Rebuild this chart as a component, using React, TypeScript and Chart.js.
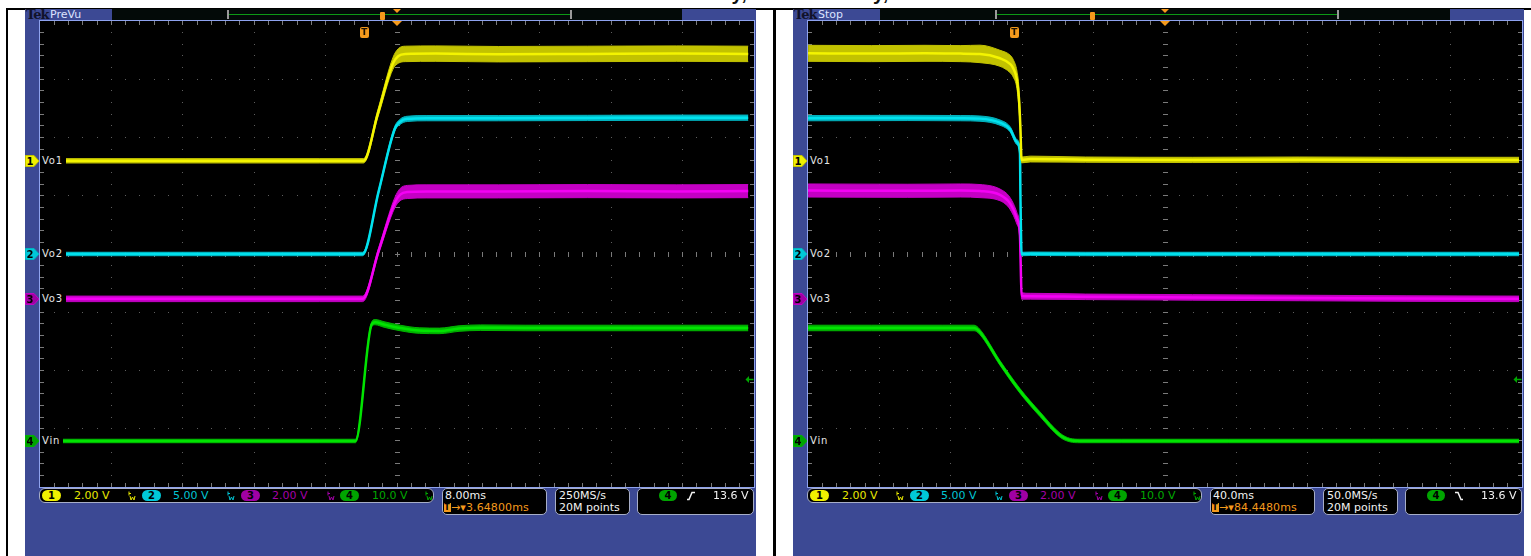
import React, { useEffect, useRef } from "react";
import { Chart, registerables } from "chart.js";

Chart.register(...registerables);

// ---------------- channel set-up (shared by both captures) ----------------
const CH_NAMES = ["Vo1", "Vo2", "Vo3", "Vin"];
const CH_VOLTS_PER_DIV = [2, 5, 2, 10];
const CH_OFFSET_DIV = [1.6, 0, -0.77, -3.21];
const CH_SCALE_LABELS = ["2.00 V", "5.00 V", "2.00 V", "10.0 V"];
const TRIGGER_LEVEL_TEXT = "13.6 V";
const PAGE_TITLE = "Turn-on delay, Turn-off delay, 300";

// ---------------- left capture: power-up, 8.00 ms/div ----------------
const L_TIME_PER_DIV = 8; // ms
const L_DELAY = 3.648; // ms, trigger -> centre
const L_VO1_T = [-36.35, -20, -5, -0.1, 1.5, 3.2, 3.8, 4.6, 8, 15, 25, 35, 43.0];
const L_VO1_V = [0, 0, 0, 0, 1.62, 3.35, 3.6, 3.67, 3.68, 3.66, 3.67, 3.68, 3.67];
const L_VO1_PP = [0.15, 0.15, 0.15, 0.15, 0.25, 0.4, 0.5, 0.53, 0.53, 0.53, 0.53, 0.53, 0.53];

const L_VO2_T = [-36.35, -20, -5, -0.2, 1.6, 3.4, 4.0, 4.8, 7, 15, 25, 35, 43.0];
const L_VO2_V = [0, 0, 0, 0, 5.4, 10.75, 11.35, 11.6, 11.66, 11.66, 11.68, 11.7, 11.7];
const L_VO2_PP = [0.3, 0.3, 0.3, 0.3, 0.3, 0.4, 0.45, 0.45, 0.45, 0.45, 0.45, 0.45, 0.45];

const L_VO3_T = [-36.35, -20, -5, -0.2, 1.6, 3.4, 4.0, 4.8, 7, 15, 25, 35, 43.0];
const L_VO3_V = [0, 0, 0, 0, 1.66, 3.3, 3.58, 3.67, 3.69, 3.69, 3.7, 3.69, 3.7];
const L_VO3_PP = [0.19, 0.19, 0.19, 0.19, 0.2, 0.35, 0.42, 0.45, 0.45, 0.45, 0.45, 0.45, 0.45];

const L_VIN_T = [-36.35, -20, -5, -1.0, 0.8, 1.2, 2.2, 4.0, 6.2, 8.4, 10.6, 13, 18, 30, 43.0];
const L_VIN_V = [0, 0, 0, 0, 20.0, 20.4, 20.0, 19.4, 18.95, 18.9, 19.3, 19.45, 19.4, 19.4, 19.4];
const L_VIN_PP = [0.6, 0.6, 0.6, 0.6, 0.8, 0.9, 0.95, 0.95, 0.95, 0.95, 0.95, 0.95, 0.95, 0.95, 0.95];

// ---------------- right capture: power-down, 40.0 ms/div ----------------
const R_TIME_PER_DIV = 40; // ms
const R_DELAY = 84.448; // ms
const R_VO1_T = [-115.5, -80, -50, -30, -19.2, -8.0, -2.4, -0.7, 1.5, 2.6, 3.4, 4.1, 9, 40, 100, 160, 220, 282.8];
const R_VO1_V = [3.69, 3.68, 3.69, 3.68, 3.67, 3.52, 3.33, 3.19, 2.78, 2.16, 1.2, 0.03, 0.06, 0.04, 0.03, 0.04, 0.03, 0.03];
const R_VO1_PP = [0.55, 0.55, 0.55, 0.55, 0.6, 0.55, 0.6, 0.6, 0.6, 0.7, 0.4, 0.2, 0.2, 0.18, 0.18, 0.18, 0.18, 0.18];

const R_VO2_T = [-115.5, -60, -30, -19.2, -8.0, -2.4, 1.5, 3.2, 3.5, 4.1, 9, 40, 100, 160, 220, 282.8];
const R_VO2_V = [11.66, 11.68, 11.66, 11.62, 11.28, 10.72, 9.6, 8.62, 4.5, 0.0, 0.02, 0.0, 0.0, 0.0, 0.0, 0.0];
const R_VO2_PP = [0.45, 0.45, 0.45, 0.45, 0.45, 0.45, 0.45, 0.45, 0.3, 0.3, 0.3, 0.3, 0.3, 0.3, 0.3, 0.3];

const R_VO3_T = [-115.5, -60, -30, -19.2, -8.0, -2.4, 1.5, 3.2, 3.6, 4.1, 9, 40, 100, 160, 220, 282.8];
const R_VO3_V = [3.72, 3.71, 3.72, 3.7, 3.57, 3.28, 2.76, 2.16, 1.2, 0.1, 0.09, 0.07, 0.05, 0.03, 0.01, 0.0];
const R_VO3_PP = [0.45, 0.45, 0.45, 0.45, 0.4, 0.4, 0.4, 0.35, 0.25, 0.22, 0.2, 0.19, 0.19, 0.19, 0.19, 0.19];

const R_VIN_T = [-115.5, -80, -40, -22.5, -19.5, -8.0, 3.2, 14.4, 25.6, 31.2, 36.8, 60, 120, 200, 282.8];
const R_VIN_V = [19.4, 19.4, 19.4, 19.4, 18.8, 13.4, 8.6, 4.6, 1.0, 0.15, 0, 0, 0, 0, 0];
const R_VIN_PP = [0.95, 0.95, 0.95, 0.95, 0.9, 0.8, 0.8, 0.8, 0.7, 0.6, 0.6, 0.6, 0.6, 0.6, 0.6];

// ---------------- styles ----------------
const CH_COLOR = ["#f4f400", "#00e2ee", "#f400f4", "#00e400"];
const CH_DIM = ["#c2c200", "#00b4c0", "#c400c4", "#00b400"];
const CH_TEXT = ["#e8e800", "#00c4d4", "#a400a8", "#00a800"];
const CH_BADGE = ["#f0f000", "#00c8d8", "#a000a4", "#00a400"];
const ORANGE = "#f59a1c";
const BLUE = "#3c4994";
const FONT = '"DejaVu Sans", Verdana, sans-serif';

type Trace = { t: number[]; v: number[]; pp: number[] };
type Capture = {
  ox: number;
  mode: string;
  tMin: number;
  tMax: number;
  traces: Trace[];
  timeText: string;
  delayText: string;
  rateText: string;
  rising: boolean;
  navLine: [number, number];
  navT: number;
};

const CAPTURES: Capture[] = [
  {
    ox: 0,
    mode: "PreVu",
    tMin: L_DELAY - 5 * L_TIME_PER_DIV,
    tMax: L_DELAY + 5 * L_TIME_PER_DIV,
    traces: [
      { t: L_VO1_T, v: L_VO1_V, pp: L_VO1_PP },
      { t: L_VO2_T, v: L_VO2_V, pp: L_VO2_PP },
      { t: L_VO3_T, v: L_VO3_V, pp: L_VO3_PP },
      { t: L_VIN_T, v: L_VIN_V, pp: L_VIN_PP },
    ],
    timeText: "8.00ms",
    delayText: "3.64800ms",
    rateText: "250MS/s",
    rising: true,
    navLine: [228, 570],
    navT: 380,
  },
  {
    ox: 768,
    mode: "Stop",
    tMin: R_DELAY - 5 * R_TIME_PER_DIV,
    tMax: R_DELAY + 5 * R_TIME_PER_DIV,
    traces: [
      { t: R_VO1_T, v: R_VO1_V, pp: R_VO1_PP },
      { t: R_VO2_T, v: R_VO2_V, pp: R_VO2_PP },
      { t: R_VO3_T, v: R_VO3_V, pp: R_VO3_PP },
      { t: R_VIN_T, v: R_VIN_V, pp: R_VIN_PP },
    ],
    timeText: "40.0ms",
    delayText: "84.4480ms",
    rateText: "50.0MS/s",
    rising: false,
    navLine: [228, 569],
    navT: 322,
  },
];

const PLOT_W = 714;
const PLOT_H = 466;
const PLOT_X = 40;
const PLOT_Y = 21;

function buildDatasets(traces: Trace[]) {
  const ds: any[] = [];
  traces.forEach((tr, c) => {
    const toDiv = (val: number) => CH_OFFSET_DIV[c] + val / CH_VOLTS_PER_DIV[c];
    const core = tr.t.map((t, i) => ({ x: t, y: toDiv(tr.v[i]) }));
    const upper = tr.t.map((t, i) => ({ x: t, y: toDiv(tr.v[i] + tr.pp[i] / 2) }));
    const lower = tr.t.map((t, i) => ({ x: t, y: toDiv(tr.v[i] - tr.pp[i] / 2) }));
    ds.push({ label: CH_NAMES[c], data: core, borderColor: CH_COLOR[c], borderWidth: 2.5, fill: false });
    ds.push({ label: CH_NAMES[c] + " max", data: upper, borderColor: CH_DIM[c], borderWidth: 1, fill: false });
    ds.push({
      label: CH_NAMES[c] + " min",
      data: lower,
      borderColor: CH_DIM[c],
      borderWidth: 1,
      fill: "-1",
      backgroundColor: CH_DIM[c],
    });
  });
  return ds;
}

const graticulePlugin = {
  id: "graticule",
  beforeDatasetsDraw(chart: any) {
    const { ctx, chartArea: a } = chart;
    const L = a.left, T = a.top, W = a.right - a.left, H = a.bottom - a.top;
    const dx = W / 10, dy = H / 8;
    ctx.save();
    ctx.fillStyle = "#000";
    ctx.fillRect(L, T, W, H);
    ctx.fillStyle = "#5e5e5e";
    for (let i = 1; i < 10; i++) {
      const x = Math.floor(L + i * dx);
      for (let k = 1; k < 40; k++) ctx.fillRect(x, Math.floor(T + (k * dy) / 5), 1, 1);
    }
    for (let j = 1; j < 8; j++) {
      const y = Math.floor(T + j * dy);
      for (let k = 1; k < 50; k++) ctx.fillRect(Math.floor(L + (k * dx) / 5), y, 1, 1);
    }
    ctx.fillStyle = "#7a7a7a";
    const cx = Math.floor(L + 5 * dx), cy = Math.floor(T + 4 * dy);
    for (let k = 1; k < 50; k++) {
      const x = Math.floor(L + (k * dx) / 5);
      ctx.fillRect(x, cy - 2, 1, 5);
      ctx.fillRect(x, T, 1, 4);
      ctx.fillRect(x, a.bottom - 4, 1, 4);
    }
    for (let k = 1; k < 40; k++) {
      const y = Math.floor(T + (k * dy) / 5);
      ctx.fillRect(cx - 2, y, 5, 1);
      ctx.fillRect(L, y, 4, 1);
      ctx.fillRect(a.right - 4, y, 4, 1);
    }
    ctx.restore();
  },
};

function ScopeChart({ cap }: { cap: Capture }) {
  const ref = useRef<HTMLCanvasElement>(null);
  useEffect(() => {
    const chart = new Chart(ref.current as HTMLCanvasElement, {
      type: "line",
      data: { datasets: buildDatasets(cap.traces) },
      options: {
        animation: false,
        responsive: false,
        devicePixelRatio: 1,
        events: [],
        layout: { padding: 0 },
        plugins: { legend: { display: false }, tooltip: { enabled: false }, title: { display: false } },
        elements: { point: { radius: 0 }, line: { cubicInterpolationMode: "monotone" } },
        scales: {
          x: { type: "linear", min: cap.tMin, max: cap.tMax, display: false },
          y: { type: "linear", min: -4, max: 4, display: false },
        },
      } as any,
      plugins: [graticulePlugin],
    });
    return () => chart.destroy();
  }, [cap]);
  return (
    <canvas
      ref={ref}
      width={PLOT_W}
      height={PLOT_H}
      style={{ position: "absolute", left: cap.ox + PLOT_X, top: PLOT_Y, width: PLOT_W, height: PLOT_H }}
    />
  );
}

const abs = (left: number, top: number, extra: React.CSSProperties = {}): React.CSSProperties => ({
  position: "absolute",
  left,
  top,
  ...extra,
});

function DownTri({ x, y, w, h }: { x: number; y: number; w: number; h: number }) {
  return (
    <div
      style={abs(x - w / 2, y, {
        width: 0,
        height: 0,
        borderLeft: `${w / 2}px solid transparent`,
        borderRight: `${w / 2}px solid transparent`,
        borderTop: `${h}px solid ${ORANGE}`,
      })}
    />
  );
}

function BwIcon({ x, color }: { x: number; color: string }) {
  return (
    <svg style={abs(x, 491)} width={8} height={10}>
      <path d="M1 0.5 V4.5 M1 2.5 H3" stroke={color} strokeWidth={1} fill="none" />
      <path d="M2 5 L3 9 L4.5 6 L6 9 L7 5" stroke={color} strokeWidth={1} fill="none" />
    </svg>
  );
}

function Scope({ cap }: { cap: Capture }) {
  const o = cap.ox;
  const trigX = PLOT_X + ((0 - cap.tMin) / (cap.tMax - cap.tMin)) * PLOT_W;
  const chanY = (c: number) => PLOT_Y + PLOT_H / 2 - (CH_OFFSET_DIV[c] * PLOT_H) / 8;
  const textBase: React.CSSProperties = { fontFamily: FONT, fontSize: 11, lineHeight: "13px", whiteSpace: "nowrap" };
  const badgeX = [42, 142, 241, 340];
  const scaleX = [74, 173, 272, 372];
  const bwX = [128, 227, 327, 425];
  const readoutBox = (left: number, width: number): React.CSSProperties =>
    abs(o + left, 488, {
      width,
      height: 27,
      background: "#000",
      border: "1px solid #a7aec8",
      borderRadius: 5,
      boxSizing: "border-box",
    });
  const badge = (left: number, c: number): React.CSSProperties =>
    abs(o + left, 490, {
      width: 19,
      height: 11,
      borderRadius: 6,
      background: CH_BADGE[c],
      color: "#000",
      fontFamily: FONT,
      fontWeight: "bold",
      fontSize: 10,
      lineHeight: "11px",
      textAlign: "center",
    });
  return (
    <>
      {/* instrument panel */}
      <div style={abs(o + 25, 9, { width: 731, height: 547, background: BLUE })} />
      <div
        style={abs(o + 26, 7, {
          fontFamily: '"DejaVu Serif", serif',
          fontWeight: "bold",
          fontSize: 13,
          color: "#10122a",
          letterSpacing: -1,
          lineHeight: "15px",
        })}
      >
        Tek
      </div>
      <div style={abs(o + 50, 7.5, { ...textBase, color: "#dce3ff" })}>{cap.mode}</div>
      {/* record view bar */}
      <div style={abs(o + 112, 9, { width: 570, height: 11, background: "#030a08" })} />
      <div style={abs(o + cap.navLine[0], 14, { width: cap.navLine[1] - cap.navLine[0], height: 1, background: "#0d9a16" })} />
      <div style={abs(o + cap.navLine[0] - 1, 10, { width: 2, height: 9, background: "#9a9a9a" })} />
      <div style={abs(o + cap.navLine[1], 10, { width: 2, height: 9, background: "#9a9a9a" })} />
      <div style={abs(o + cap.navT, 12, { width: 5, height: 8, background: ORANGE, borderRadius: 1 })} />
      <DownTri x={o + PLOT_X + PLOT_W / 2} y={9} w={8} h={4} />
      {/* graticule frame */}
      <div
        style={abs(o + PLOT_X - 1, PLOT_Y - 1, {
          width: PLOT_W + 2,
          height: PLOT_H + 2,
          border: "1px solid #8ea2ee",
          boxSizing: "border-box",
        })}
      />
      <ScopeChart cap={cap} />
      <DownTri x={o + PLOT_X + PLOT_W / 2} y={PLOT_Y} w={10} h={5} />
      <div
        style={abs(o + trigX - 4.5, 27, {
          width: 9,
          height: 11,
          background: ORANGE,
          borderRadius: 2,
          color: "#1a1000",
          fontFamily: FONT,
          fontWeight: "bold",
          fontSize: 9,
          lineHeight: "11px",
          textAlign: "center",
        })}
      >
        T
      </div>
      {/* channel markers and labels */}
      {CH_NAMES.map((name, c) => {
        const y = chanY(c);
        return (
          <React.Fragment key={name}>
            <svg style={abs(o + 25, y - 6)} width={15} height={12}>
              <path d="M0.5 0.5 H9 L14 6 L9 11.5 H0.5 Z" fill={CH_BADGE[c]} stroke={CH_DIM[c]} />
              <text x={5} y={10} fontSize={10} fontWeight="bold" fontFamily={FONT} fill="#000" textAnchor="middle">
                {c + 1}
              </text>
            </svg>
            <div
              style={abs(o + PLOT_X, y - 7, {
                ...textBase,
                fontSize: 10,
                letterSpacing: 0.8,
                lineHeight: "14px",
                height: 14,
                padding: "0 3px 0 2px",
                background: "#000",
                color: "#e6e6e6",
              })}
            >
              {name}
            </div>
          </React.Fragment>
        );
      })}
      {/* trigger level arrow */}
      <svg style={abs(o + 745, 375)} width={9} height={9}>
        <path d="M0.5 4.5 L4 1 V8 Z" fill="#00a800" />
        <path d="M3 4.5 H8.5" stroke="#00a800" strokeWidth={1.5} />
      </svg>
      {/* vertical readouts */}
      <div
        style={abs(o + 39, 488, {
          width: 395,
          height: 15,
          background: "#000",
          border: "1px solid #a7aec8",
          borderRadius: 6,
          boxSizing: "border-box",
        })}
      />
      {CH_NAMES.map((name, c) => (
        <React.Fragment key={"r" + name}>
          <div style={badge(badgeX[c], c)}>{c + 1}</div>
          <div style={abs(o + scaleX[c], 488.7, { ...textBase, color: CH_TEXT[c] })}>{CH_SCALE_LABELS[c]}</div>
          <BwIcon x={o + bwX[c]} color={CH_TEXT[c]} />
        </React.Fragment>
      ))}
      {/* horizontal readout */}
      <div style={readoutBox(442, 105)} />
      <div style={abs(o + 445, 488.7, { ...textBase, color: "#f2f2f2" })}>{cap.timeText}</div>
      <div
        style={abs(o + 443.5, 503, {
          width: 7,
          height: 9,
          background: ORANGE,
          color: "#000",
          fontFamily: FONT,
          fontWeight: "bold",
          fontSize: 8,
          lineHeight: "9px",
          textAlign: "center",
        })}
      >
        T
      </div>
      <div style={abs(o + 451, 500.5, { ...textBase, color: ORANGE, letterSpacing: 0.1 })}>
        {"\u2192\u25BE" + cap.delayText}
      </div>
      {/* acquisition readout */}
      <div style={readoutBox(555, 75)} />
      <div style={abs(o + 559, 488.7, { ...textBase, color: "#f2f2f2" })}>{cap.rateText}</div>
      <div style={abs(o + 559, 500.5, { ...textBase, color: "#f2f2f2" })}>20M points</div>
      {/* trigger readout */}
      <div style={readoutBox(637, 117)} />
      <div style={{ ...badge(659, 3), width: 18 }}>4</div>
      <svg style={abs(o + 686, 491)} width={11} height={10}>
        {cap.rising ? (
          <path d="M1 8.5 H3 L6 1.5 H9" stroke="#f0f0f0" strokeWidth={1.5} fill="none" />
        ) : (
          <path d="M1 1.5 H4 L7 8.5 H9" stroke="#f0f0f0" strokeWidth={1.5} fill="none" />
        )}
      </svg>
      <div style={abs(o + 713, 488.7, { ...textBase, color: "#f2f2f2" })}>{TRIGGER_LEVEL_TEXT}</div>
    </>
  );
}

export default function App() {
  return (
    <div
      style={{
        position: "fixed",
        left: 0,
        top: 0,
        width: 1531,
        height: 556,
        background: "#fff",
        overflow: "hidden",
      }}
    >
      {/* document caption, mostly cut off at the top edge */}
      <div
        style={abs(612, -17, {
          fontFamily: '"Liberation Sans", Arial, sans-serif',
          fontWeight: "bold",
          fontSize: 20,
          lineHeight: "20px",
          color: "#111",
          whiteSpace: "nowrap",
        })}
      >
        {PAGE_TITLE}
      </div>
      {/* document table borders */}
      <div style={abs(6, 8, { width: 1525, height: 2, background: "#000" })} />
      <div style={abs(6, 8, { width: 2, height: 548, background: "#000" })} />
      <div style={abs(773, 8, { width: 3, height: 548, background: "#000" })} />
      {CAPTURES.map((cap) => (
        <Scope key={cap.ox} cap={cap} />
      ))}
    </div>
  );
}
